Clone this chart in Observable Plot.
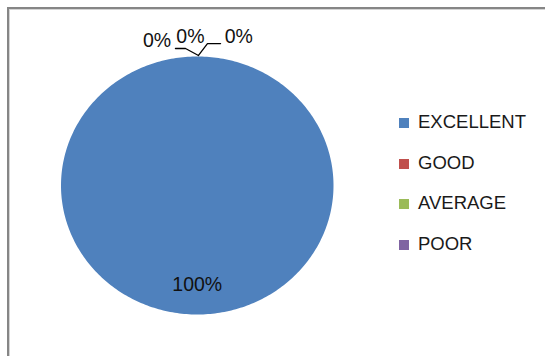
<!DOCTYPE html>
<html>
<head>
<meta charset="utf-8">
<script src="https://cdn.jsdelivr.net/npm/d3@7"></script>
<script src="https://cdn.jsdelivr.net/npm/@observablehq/plot@0.6"></script>
<style>
  html, body { margin: 0; padding: 0; background: #fff; }
  #wrap { position: relative; width: 545px; height: 356px; overflow: hidden; background: #fff;
          font-family: "Liberation Sans", Arial, sans-serif; }
  #frame { position: absolute; left: 7px; top: 7px; width: 600px; height: 400px;
           border-left: 2px solid #868686; border-top: 2px solid #868686;
           box-shadow: inset 1px 1px 0 #d4d4d4; }
  #chart { position: absolute; left: 0; top: 0; }
  #legend { position: absolute; left: 399px; top: 102px; }
  .row { display: flex; align-items: center; height: 40.5px; font-size: 18.5px; color: #1a1a1a; }
  .sw { width: 10px; height: 10px; margin-right: 9px; margin-top: 2px; }
</style>
</head>
<body>
<div id="wrap">
  <div id="frame"></div>
  <div id="chart"></div>
  <div id="legend"></div>
</div>
<script>
// ---- data ----
const categories = ["EXCELLENT", "GOOD", "AVERAGE", "POOR"];
const values = [100, 0, 0, 0];
const pctLabels = ["100%", "0%", "0%", "0%"];
const colors = ["#4F81BD", "#C0504D", "#9BBB59", "#8064A2"];

// ---- layout constants ----
const FONT = '"Liberation Sans", Arial, sans-serif';
const zeroSpread = [-0.295, -0.05, 0.305]; // horizontal spread of stacked 0% labels (pie units)
const zeroLift = [1.125, 1.15, 1.15];

// ---- geometry from pie layout ----
const arcs = d3.pie().sort(null).value(d => d)(values);
const pts = [];
arcs.forEach((a, i) => {
  const n = Math.max(2, Math.ceil((a.endAngle - a.startAngle) / (Math.PI / 180)));
  pts.push({cat: categories[i], x: 0, y: 0});
  for (let k = 0; k <= n; k++) {
    const t = a.startAngle + (a.endAngle - a.startAngle) * k / n;
    pts.push({cat: categories[i], x: Math.sin(t), y: Math.cos(t)});
  }
  pts.push({cat: categories[i], x: 0, y: 0});
});

// labels
const labelData = [];
let zi = 0;
arcs.forEach((a, i) => {
  const mid = (a.startAngle + a.endAngle) / 2;
  if (values[i] > 0) {
    labelData.push({text: pctLabels[i], x: 0.77 * Math.sin(mid), y: 0.77 * Math.cos(mid)});
  } else {
    const ax = Math.sin(mid), ay = Math.cos(mid);
    labelData.push({text: pctLabels[i], x: ax + zeroSpread[zi], y: ay * zeroLift[zi]});
    zi++;
  }
});

// leader lines from the zero-slice anchor (top of pie)
const zeroArc = arcs.find((a, i) => values[i] === 0);
const ax = Math.sin(zeroArc.startAngle), ay = Math.cos(zeroArc.startAngle);
const leaders = [
  {g: 1, x: ax - 0.16, y: ay + 0.062},
  {g: 1, x: ax - 0.086, y: ay + 0.062},
  {g: 1, x: ax + 0.009, y: ay + 0.008},
  {g: 2, x: ax + 0.009, y: ay + 0.008},
  {g: 2, x: ax + 0.075, y: ay + 0.10},
  {g: 2, x: ax + 0.171, y: ay + 0.10}
];

const chart = Plot.plot({
  width: 545,
  height: 356,
  margin: 0,
  style: {background: "transparent", fontFamily: FONT, overflow: "visible"},
  x: {domain: [-1, 1], range: [60.5, 333], axis: null},
  y: {domain: [-1, 1], range: [314, 56], axis: null},
  color: {domain: categories, range: colors},
  marks: [
    Plot.line(pts, {x: "x", y: "y", z: "cat", fill: "cat", stroke: "none", curve: "linear"}),
    Plot.line(leaders, {x: "x", y: "y", z: "g", stroke: "#000", strokeWidth: 1.3}),
    Plot.text(labelData, {x: "x", y: "y", text: "text", fontSize: 19.5, fill: "#111", fontFamily: FONT})
  ]
});
document.getElementById("chart").appendChild(chart);

// legend
const lg = d3.select("#legend");
categories.forEach((c, i) => {
  const r = lg.append("div").attr("class", "row");
  r.append("div").attr("class", "sw").style("background", colors[i]);
  r.append("span").text(c);
});
</script>
</body>
</html>
